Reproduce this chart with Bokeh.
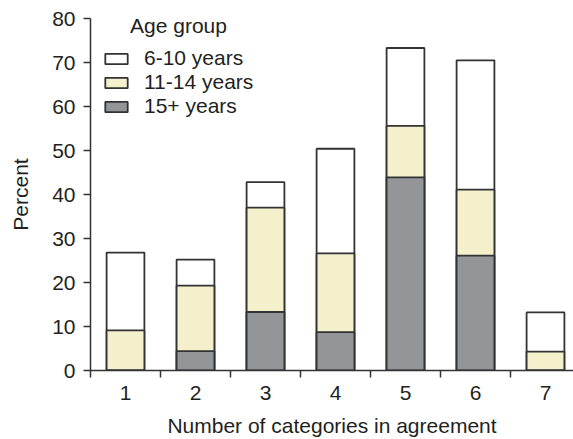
from bokeh.plotting import figure
from bokeh.models import FixedTicker, Legend, LegendItem, Label, Range1d
from bokeh.embed import file_html
from bokeh.resources import INLINE

categories = [1, 2, 3, 4, 5, 6, 7]
age_6_10 = [26.8, 25.2, 42.8, 50.4, 73.3, 70.5, 13.2]
age_11_14 = [9.1, 19.3, 37.0, 26.6, 55.6, 41.1, 4.3]
age_15_plus = [0.0, 4.4, 13.3, 8.7, 43.9, 26.1, 0.0]
series_names = ["6-10 years", "11-14 years", "15+ years"]
legend_title = "Age group"
y_ticks = [0, 10, 20, 30, 40, 50, 60, 70, 80]

FONT = "Liberation Sans"
FS = "21px"
TXT = "#231f20"
EDGE = "#333333"

p = figure(width=573, height=439, output_backend="svg", toolbar_location=None,
           x_range=Range1d(0.5, 7.4), y_range=Range1d(0, 80),
           min_border_left=90, min_border_right=0, min_border_top=18, min_border_bottom=69)
p.outline_line_color = None
p.xgrid.visible = False
p.ygrid.visible = False
p.background_fill_color = "white"

w = 0.54
r1 = p.vbar(x=categories, top=age_6_10, bottom=0, width=w, fill_color="white",
            line_color=EDGE, line_width=1.8)
r2 = p.vbar(x=categories, top=age_11_14, bottom=0, width=w, fill_color="#f4f0cc",
            line_color=EDGE, line_width=1.8)
r3 = p.vbar(x=categories, top=age_15_plus, bottom=0, width=w, fill_color="#939598",
            line_color=EDGE, line_width=1.8)

# axes
p.xaxis.ticker = FixedTicker(ticks=categories, minor_ticks=[0.5, 1.5, 2.5, 3.5, 4.5, 5.5, 6.5])
p.xaxis.major_tick_out = 0
p.xaxis.major_tick_in = 0
p.xaxis.minor_tick_out = 7
p.xaxis.minor_tick_in = 0
p.xaxis.minor_tick_line_color = EDGE
p.xaxis.minor_tick_line_width = 1.5
p.xaxis.major_label_standoff = 8
p.xaxis.axis_label = "Number of categories in agreement"
p.xaxis.axis_label_standoff = 11

p.yaxis.ticker = FixedTicker(ticks=y_ticks)
p.yaxis.major_tick_out = 7
p.yaxis.major_tick_in = 0
p.yaxis.minor_tick_out = 0
p.yaxis.minor_tick_in = 0
p.yaxis.major_label_standoff = 8
p.yaxis.axis_label = "Percent"
p.yaxis.axis_label_standoff = 17

for ax in (p.xaxis, p.yaxis):
    ax.axis_line_color = EDGE
    ax.axis_line_width = 1.5
    ax.major_tick_line_color = EDGE
    ax.major_tick_line_width = 1.5
    ax.major_label_text_font = FONT
    ax.major_label_text_font_size = FS
    ax.major_label_text_color = TXT
    ax.axis_label_text_font = FONT
    ax.axis_label_text_font_size = FS
    ax.axis_label_text_font_style = "normal"
    ax.axis_label_text_color = TXT

legend = Legend(items=[LegendItem(label=series_names[0], renderers=[r1]),
                       LegendItem(label=series_names[1], renderers=[r2]),
                       LegendItem(label=series_names[2], renderers=[r3])],
                location=(12, 252), orientation="vertical",
                glyph_width=28, glyph_height=13, label_standoff=14,
                label_text_font=FONT, label_text_font_size=FS, label_text_color=TXT,
                label_height=23, spacing=0, padding=0, margin=0,
                border_line_color=None, background_fill_alpha=0)
p.add_layout(legend, "center")

p.add_layout(Label(x=178 - 90, y=370 - 25, x_units="screen", y_units="screen",
                   text=legend_title, text_font=FONT, text_font_size=FS,
                   text_color=TXT, text_align="center", text_baseline="middle"))

open("out.html", "w").write(file_html(p, INLINE))
